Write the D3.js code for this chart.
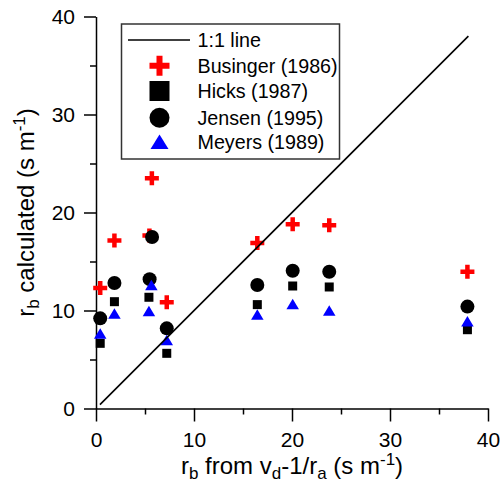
<!DOCTYPE html>
<html>
<head>
<meta charset="utf-8">
<script src="https://cdn.jsdelivr.net/npm/d3@7"></script>
<style>
  html, body { margin: 0; padding: 0; background: #fff; }
  svg { display: block; font-family: "Liberation Sans", Arial, sans-serif; }
</style>
</head>
<body>
<svg id="chart" width="501" height="489"></svg>
<script>
// r_b from measurements (x) vs. r_b from four parameterisations (y), s m-1
const businger = { x: [0.43, 1.88, 5.45, 5.7, 7.22, 16.46, 20.07, 23.8, 37.9],
                   y: [12.3, 17.15, 17.65, 23.5, 10.84, 16.9, 18.8, 18.7, 13.96] };
const hicks    = { x: [0.43, 1.88, 5.4, 7.22, 16.46, 20.07, 23.8, 37.9],
                   y: [6.65, 10.9, 11.35, 5.63, 10.6, 12.5, 12.4, 8.04] };
const jensen   = { x: [0.43, 1.88, 5.47, 5.72, 7.22, 16.46, 20.07, 23.8, 37.9],
                   y: [9.2, 12.8, 13.2, 17.5, 8.18, 12.6, 14.06, 13.96, 10.4] };
const meyers   = { x: [0.43, 1.88, 5.4, 5.65, 7.22, 16.46, 20.07, 23.8, 37.9],
                   y: [7.65, 9.7, 9.95, 12.6, 7.0, 9.6, 10.66, 10.0, 8.9] };
const oneToOne = [0.4, 38];

const majorTicks = [0, 10, 20, 30, 40];
const minorTicks = [5, 15, 25, 35];
const legendLabels = ["1:1 line", "Businger (1986)", "Hicks (1987)", "Jensen (1995)", "Meyers (1989)"];

const svg = d3.select("#chart");
const x = d3.scaleLinear().domain([0, 40]).range([96, 488]);
const y = d3.scaleLinear().domain([0, 40]).range([408.5, 16.5]);

// Axes
svg.append("g").attr("transform", `translate(0,${y(0)})`)
  .call(d3.axisBottom(x).tickValues(majorTicks).tickSize(13).tickSizeOuter(0).tickPadding(11));
svg.append("g").attr("transform", `translate(0,${y(0)})`)
  .call(d3.axisBottom(x).tickValues(minorTicks).tickSize(6).tickFormat(""))
  .select(".domain").remove();
svg.append("g").attr("transform", `translate(${x(0)},0)`)
  .call(d3.axisLeft(y).tickValues(majorTicks).tickSize(12).tickSizeOuter(0).tickPadding(9));
svg.append("g").attr("transform", `translate(${x(0)},0)`)
  .call(d3.axisLeft(y).tickValues(minorTicks).tickSize(6).tickFormat(""))
  .select(".domain").remove();

svg.selectAll(".domain, .tick line").attr("stroke", "#000").attr("stroke-width", 1.5);
svg.selectAll(".tick text").attr("font-size", 21).attr("fill", "#000")
  .attr("font-family", "Liberation Sans, Arial, sans-serif");

// Axis titles
const big = 24, small = 17;
const xTitle = svg.append("text").attr("x", x(20)).attr("y", 474)
  .attr("text-anchor", "middle").attr("font-size", big);
xTitle.append("tspan").text("r");
xTitle.append("tspan").text("b").attr("font-size", small).attr("dy", 5);
xTitle.append("tspan").text(" from v").attr("dy", -5);
xTitle.append("tspan").text("d").attr("font-size", small).attr("dy", 5);
xTitle.append("tspan").text("-1/r").attr("dy", -5);
xTitle.append("tspan").text("a").attr("font-size", small).attr("dy", 5);
xTitle.append("tspan").text(" (s m").attr("dy", -5);
xTitle.append("tspan").text("-1").attr("font-size", small).attr("dy", -9);
xTitle.append("tspan").text(")").attr("dy", 9);

const yTitle = svg.append("text")
  .attr("transform", `translate(33.5,${y(20)}) rotate(-90)`)
  .attr("text-anchor", "middle").attr("font-size", big);
yTitle.append("tspan").text("r");
yTitle.append("tspan").text("b").attr("font-size", small).attr("dy", 5);
yTitle.append("tspan").text(" calculated (s m").attr("dy", -5);
yTitle.append("tspan").text("-1").attr("font-size", small).attr("dy", -9);
yTitle.append("tspan").text(")").attr("dy", 9);

// Marker shapes
function plusPath(s, t) {
  const a = s / 2, b = t / 2;
  return `M${-b},${-a}H${b}V${-b}H${a}V${b}H${b}V${a}H${-b}V${b}H${-a}V${-b}H${-b}Z`;
}
function triPath(w, h) {
  return `M0,${-h / 2}L${w / 2},${h / 2}L${-w / 2},${h / 2}Z`;
}
function pairs(s) { return s.x.map((v, i) => [v, s.y[i]]); }

const marks = svg.append("g");
marks.selectAll(".bus").data(pairs(businger)).join("path")
  .attr("transform", d => `translate(${x(d[0])},${y(d[1])})`)
  .attr("d", plusPath(14, 4.5)).attr("fill", "#ff0000");
marks.selectAll(".hic").data(pairs(hicks)).join("rect")
  .attr("x", d => x(d[0]) - 4.5).attr("y", d => y(d[1]) - 4.5)
  .attr("width", 9).attr("height", 9).attr("fill", "#000");
marks.selectAll(".jen").data(pairs(jensen)).join("circle")
  .attr("cx", d => x(d[0])).attr("cy", d => y(d[1])).attr("r", 7).attr("fill", "#000");
marks.selectAll(".mey").data(pairs(meyers)).join("path")
  .attr("transform", d => `translate(${x(d[0])},${y(d[1])})`)
  .attr("d", triPath(12.5, 10.5)).attr("fill", "#0000ff");

// 1:1 line
svg.append("line")
  .attr("x1", x(oneToOne[0])).attr("y1", y(oneToOne[0]))
  .attr("x2", x(oneToOne[1])).attr("y2", y(oneToOne[1]))
  .attr("stroke", "#000").attr("stroke-width", 1.6);

// Legend
const lg = svg.append("g");
lg.append("rect").attr("x", 121.5).attr("y", 24).attr("width", 218).attr("height", 135)
  .attr("fill", "#fff").attr("stroke", "#333").attr("stroke-width", 1.5);
const rowY = [40, 65.7, 91, 117.7, 141.7];
const mx = 159.5;
lg.append("line").attr("x1", 128).attr("x2", 190).attr("y1", rowY[0]).attr("y2", rowY[0])
  .attr("stroke", "#000").attr("stroke-width", 1.3);
lg.append("path").attr("transform", `translate(${mx},${rowY[1]})`)
  .attr("d", plusPath(20, 6)).attr("fill", "#ff0000");
lg.append("rect").attr("x", mx - 10).attr("y", rowY[2] - 10).attr("width", 20).attr("height", 20)
  .attr("fill", "#000");
lg.append("circle").attr("cx", mx).attr("cy", rowY[3]).attr("r", 10).attr("fill", "#000");
lg.append("path").attr("transform", `translate(${mx},${rowY[4]})`)
  .attr("d", triPath(18, 14.5)).attr("fill", "#0000ff");
lg.selectAll(".lt").data(legendLabels).join("text")
  .attr("x", 197.5).attr("y", (d, i) => rowY[i] + 6.8)
  .attr("font-size", 19.7).attr("fill", "#000").text(d => d);
</script>
</body>
</html>
